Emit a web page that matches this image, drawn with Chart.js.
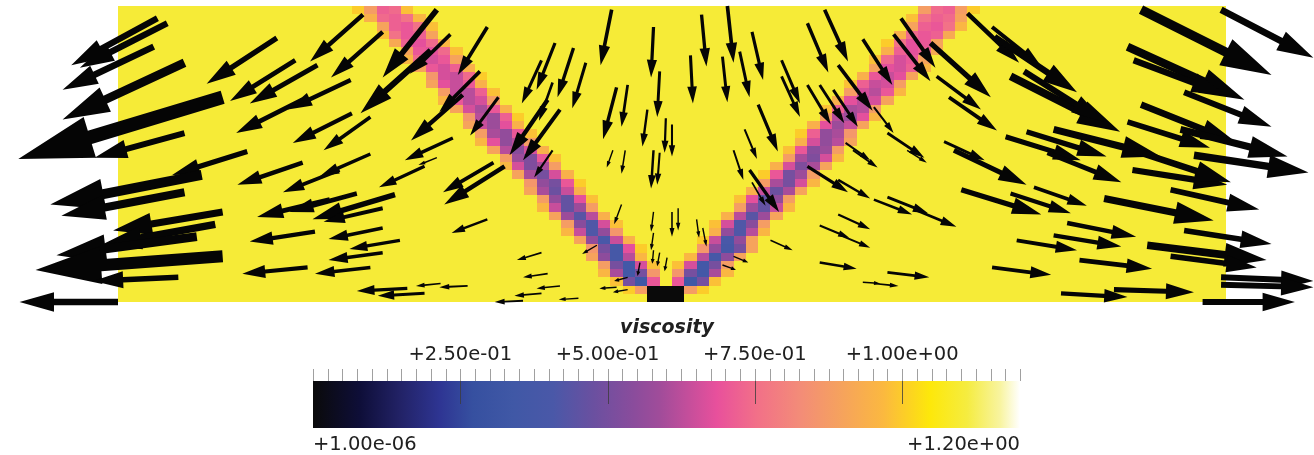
<!DOCTYPE html>
<html><head><meta charset="utf-8">
<script src="https://cdn.jsdelivr.net/npm/chart.js@4.4.1/dist/chart.umd.min.js"></script>
<style>html,body{margin:0;padding:0;background:#fff;}canvas{display:block;}</style>
</head><body>
<canvas id="c" width="1314" height="455"></canvas>
<script>
// ---------------- DATA ----------------
// model extent (length units) and mesh
const domainX = [0, 90];
const domainY = [0, 24];
const gridCols = 90, gridRows = 36;
const backgroundViscosity = 1.1;
// weak seed: [firstCol, lastCol+1, firstRow, lastRow+1, viscosity]
const seedCells = [[43, 46, 0, 2, 1e-6]];
// shear band cells: [row, firstCol, viscosities...]
const leftBand = [
  [1, 41, [1.0, 0.88]],
  [2, 40, [0.98, 0.5, 0.34, 0.7]],
  [3, 39, [0.96, 0.6, 0.36, 0.5, 0.86]],
  [4, 39, [0.88, 0.5, 0.36, 0.66, 0.98]],
  [5, 38, [0.9, 0.55, 0.38, 0.62, 0.96]],
  [6, 38, [0.86, 0.5, 0.38, 0.68, 1.0]],
  [7, 37, [0.9, 0.56, 0.4, 0.64, 0.94]],
  [8, 36, [0.96, 0.64, 0.42, 0.56, 0.86]],
  [9, 36, [0.88, 0.54, 0.42, 0.66, 0.98]],
  [10, 35, [0.9, 0.58, 0.44, 0.62, 0.94]],
  [11, 34, [0.96, 0.64, 0.46, 0.58, 0.88]],
  [12, 34, [0.88, 0.56, 0.46, 0.68, 0.98]],
  [13, 33, [0.9, 0.6, 0.48, 0.64, 0.94]],
  [14, 33, [0.86, 0.56, 0.5, 0.7, 1.0]],
  [15, 32, [0.9, 0.6, 0.5, 0.66, 0.94]],
  [16, 31, [0.96, 0.66, 0.52, 0.6, 0.88]],
  [17, 31, [0.88, 0.58, 0.52, 0.7, 0.98]],
  [18, 30, [0.9, 0.62, 0.54, 0.66, 0.94]],
  [19, 29, [0.96, 0.68, 0.56, 0.62, 0.88]],
  [20, 29, [0.88, 0.6, 0.56, 0.7, 0.98]],
  [21, 28, [0.9, 0.64, 0.58, 0.68, 0.94]],
  [22, 28, [0.86, 0.62, 0.58, 0.72, 1.0]],
  [23, 27, [0.9, 0.66, 0.6, 0.7, 0.94]],
  [24, 26, [0.96, 0.7, 0.62, 0.66, 0.88]],
  [25, 26, [0.88, 0.64, 0.62, 0.72, 0.98]],
  [26, 25, [0.9, 0.68, 0.64, 0.7, 0.94]],
  [27, 25, [0.86, 0.66, 0.64, 0.74, 1.0]],
  [28, 24, [0.9, 0.7, 0.66, 0.72, 0.94]],
  [29, 23, [0.96, 0.74, 0.66, 0.7, 0.9]],
  [30, 23, [0.9, 0.7, 0.68, 0.74, 0.98]],
  [31, 22, [0.92, 0.72, 0.68, 0.74, 0.96]],
  [32, 21, [0.98, 0.76, 0.7, 0.72, 0.9]],
  [33, 21, [0.9, 0.72, 0.7, 0.76, 0.98]],
  [34, 20, [0.94, 0.74, 0.72, 0.76, 0.96]],
  [35, 19, [1.0, 0.88, 0.72, 0.74, 0.98]]
];
const rightBand = [
  [1, 46, [0.88, 1.0]],
  [2, 45, [0.7, 0.34, 0.5, 0.98]],
  [3, 45, [0.86, 0.5, 0.36, 0.6, 0.96]],
  [4, 45, [0.98, 0.66, 0.36, 0.5, 0.88]],
  [5, 46, [0.96, 0.62, 0.38, 0.55, 0.9]],
  [6, 47, [0.86, 0.56, 0.38, 0.5, 0.9]],
  [7, 47, [1.0, 0.64, 0.4, 0.56, 0.9]],
  [8, 48, [0.94, 0.56, 0.42, 0.62, 0.96]],
  [9, 48, [0.98, 0.66, 0.42, 0.54, 0.88]],
  [10, 49, [0.94, 0.62, 0.44, 0.58, 0.9]],
  [11, 50, [0.88, 0.58, 0.46, 0.64, 0.96]],
  [12, 50, [0.98, 0.68, 0.46, 0.56, 0.88]],
  [13, 51, [0.94, 0.64, 0.48, 0.6, 0.9]],
  [14, 52, [0.88, 0.6, 0.5, 0.66, 0.96]],
  [15, 52, [1.0, 0.7, 0.5, 0.58, 0.88]],
  [16, 53, [0.94, 0.66, 0.52, 0.6, 0.9]],
  [17, 54, [0.88, 0.6, 0.52, 0.66, 0.96]],
  [18, 54, [0.98, 0.7, 0.54, 0.58, 0.88]],
  [19, 55, [0.94, 0.66, 0.56, 0.62, 0.9]],
  [20, 55, [1.0, 0.72, 0.56, 0.6, 0.86]],
  [21, 56, [0.94, 0.68, 0.58, 0.64, 0.9]],
  [22, 57, [0.88, 0.62, 0.58, 0.68, 0.96]],
  [23, 57, [0.98, 0.72, 0.6, 0.62, 0.88]],
  [24, 58, [0.94, 0.68, 0.62, 0.66, 0.9]],
  [25, 59, [0.88, 0.66, 0.62, 0.7, 0.96]],
  [26, 59, [0.98, 0.72, 0.64, 0.66, 0.88]],
  [27, 60, [0.94, 0.7, 0.64, 0.68, 0.9]],
  [28, 61, [0.9, 0.68, 0.66, 0.72, 0.96]],
  [29, 61, [0.98, 0.74, 0.66, 0.7, 0.9]],
  [30, 62, [0.94, 0.72, 0.68, 0.72, 0.92]],
  [31, 62, [1.0, 0.76, 0.68, 0.7, 0.9]],
  [32, 63, [0.94, 0.74, 0.7, 0.72, 0.92]],
  [33, 64, [0.9, 0.72, 0.7, 0.76, 0.96]],
  [34, 64, [0.98, 0.76, 0.72, 0.74, 0.9]],
  [35, 65, [0.88, 0.74, 0.72, 0.88, 1.0]]
];
// velocity glyphs: [x, y, u, v] (tail position and vector, length units)
const velocity = [
  [3.2,23.0,-7.0,-3.8],[4.0,22.6,-7.1,-3.6],[2.9,20.7,-7.4,-3.5],[5.4,19.4,-9.9,-4.6],
  [8.5,16.6,-16.6,-5.0],[5.4,13.7,-7.3,-2.0],[12.9,21.4,-5.7,-3.7],[14.4,19.6,-5.3,-3.3],
  [19.9,23.3,-4.3,-3.8],[21.5,21.9,-4.2,-3.7],[16.2,19.2,-5.5,-3.1],[18.9,18.0,-5.1,-2.4],
  [15.0,16.4,-5.4,-2.7],[19.0,15.3,-4.8,-2.4],[20.5,15.0,-3.8,-2.7],[25.9,23.7,-4.4,-5.5],
  [25.4,20.4,-5.7,-5.1],[10.5,12.2,-6.1,-1.9],
  [30.0,22.3,-2.4,-3.9],[30.9,16.6,-2.3,-3.1],[29.4,18.7,-3.3,-3.3],[35.5,21.0,-1.5,-3.8],
  [34.4,19.6,-1.6,-3.5],[37.0,20.6,-1.3,-4.0],[38.0,19.4,-1.1,-3.7],[35.3,17.8,-1.1,-3.1],
  [40.1,23.7,-0.9,-4.5],[43.5,22.3,-0.2,-4.1],[44.0,18.7,-0.2,-3.7],[40.5,17.4,-1.1,-4.2],
  [41.4,17.6,-0.5,-3.4],[43.0,15.6,-0.4,-3.0],[44.5,14.9,-0.1,-2.8],[45.0,14.4,0.0,-2.6],
  [46.5,20.0,0.2,-3.9],[47.4,23.3,0.4,-4.2],[49.5,24.0,0.5,-4.6],[49.1,19.9,0.4,-3.7],
  [50.5,20.3,0.8,-3.7],[51.5,21.9,0.9,-3.9],[52.0,16.0,1.6,-3.8],[50.9,14.0,1.0,-2.4],
  [50.0,12.3,0.8,-2.4],[53.9,19.6,1.5,-3.5],[53.9,18.3,1.5,-3.3],[56.0,22.6,1.7,-4.0],
  [57.4,23.7,1.9,-4.2],[56.0,17.6,1.9,-3.2],[57.0,17.6,2.0,-3.1],[58.1,17.2,2.0,-3.0],
  [58.5,19.2,2.8,-3.7],[60.5,21.3,2.4,-3.7],[59.1,12.9,2.0,-1.4],
  [30.5,11.3,-4.1,-2.4],[31.4,11.0,-4.9,-3.1],[30.0,6.7,-2.9,-1.1],[35.3,12.3,-1.5,-2.2],
  [40.2,12.3,-0.5,-1.4],[41.2,12.3,-0.3,-1.9],[43.5,12.3,-0.2,-3.1],[44.0,12.1,-0.2,-2.6],
  [40.9,7.9,-0.6,-1.6],[43.5,7.3,-0.2,-1.6],[45.0,7.3,0.0,-2.0],[45.5,7.6,0.0,-1.8],
  [43.5,5.6,-0.2,-1.4],[43.5,4.2,-0.1,-1.1],[44.0,4.0,-0.2,-1.1],[44.6,3.6,-0.2,-1.1],
  [47.0,6.7,0.2,-1.5],[47.5,6.0,0.3,-1.5],[42.4,3.2,-0.2,-1.1],[38.9,4.6,-1.2,-0.7],
  [41.4,2.0,-1.1,-0.3],[40.5,1.2,-1.4,-0.1],[41.4,1.0,-1.2,-0.2],[34.4,4.0,-2.0,-0.6],
  [34.9,2.3,-2.0,-0.3],[35.9,1.3,-1.9,-0.2],[34.4,0.7,-2.2,-0.2],[37.4,0.3,-1.6,-0.1],
  [32.9,0.1,-2.3,-0.1],[28.4,1.3,-2.3,-0.1],
  [51.3,10.7,2.4,-3.4],[51.5,9.7,1.1,-1.9],[56.0,11.0,3.3,-2.1],[58.5,9.9,2.6,-1.5],
  [59.7,12.3,2.0,-1.4],[58.5,7.1,2.6,-1.2],[57.0,6.2,2.4,-1.0],[58.7,5.4,2.4,-1.0],
  [53.0,5.0,1.8,-0.8],[57.0,3.2,3.0,-0.5],[50.0,3.7,1.2,-0.5],[49.1,3.0,1.1,-0.4],
  [60.5,1.6,1.4,-0.1],
  [15.0,11.3,-5.3,-1.8],[20.5,12.0,-4.1,-1.8],[18.0,10.7,-4.6,-1.8],[24.9,11.0,-3.7,-1.7],
  [25.9,11.7,-1.5,-0.6],[17.2,8.3,-5.9,-1.4],[19.4,8.8,-5.5,-1.5],[22.5,8.7,-6.7,-2.0],
  [21.5,7.6,-4.8,-1.1],[6.8,10.3,-12.3,-2.4],[5.4,8.9,-10.0,-1.9],[8.5,7.3,-8.9,-1.5],
  [7.9,6.3,-9.3,-1.7],[6.4,5.3,-11.4,-1.5],[8.5,3.7,-15.2,-1.1],[4.9,2.0,-6.9,-0.3],
  [0.0,0.0,-8.0,0.0],[16.0,5.7,-5.3,-0.8],[21.5,6.0,-4.4,-0.9],[22.9,5.0,-4.1,-0.7],
  [21.5,4.0,-4.4,-0.6],[15.4,2.8,-5.3,-0.5],[20.5,2.8,-4.5,-0.5],[23.5,1.1,-4.1,-0.2],
  [24.9,0.7,-3.8,-0.2],[26.2,1.5,-2.0,-0.2],
  [69.0,23.4,4.2,-4.0],[71.0,22.3,4.0,-3.2],[63.6,23.0,2.8,-4.0],[63.0,21.7,3.0,-3.8],
  [66.0,21.0,4.9,-4.4],[66.5,18.3,3.6,-2.7],[67.5,16.6,3.9,-2.7],[71.2,21.5,6.7,-4.5],
  [72.5,18.3,8.9,-4.5],[73.6,18.7,6.5,-4.1],[83.1,23.7,10.6,-5.3],[89.6,23.7,7.5,-3.9],
  [82.0,20.7,9.5,-4.3],[86.6,17.0,7.1,-2.8],[83.1,16.0,7.8,-3.1],[82.0,14.6,6.7,-2.1],
  [86.3,14.0,8.7,-2.2],[76.0,14.0,8.7,-2.2],[72.1,13.4,6.1,-1.9],[67.1,13.0,3.3,-1.5],
  [62.5,13.7,3.0,-2.0],[61.4,15.8,1.6,-2.1],[82.5,19.6,7.5,-2.8],[73.8,13.8,6.5,-2.0],
  [68.5,9.1,6.5,-2.0],[72.5,8.8,4.9,-1.6],[74.4,9.3,4.3,-1.5],[80.1,8.4,8.9,-1.8],
  [82.4,10.7,7.7,-1.2],[85.5,9.1,7.2,-1.6],[77.1,6.4,5.6,-1.1],[76.0,5.4,5.5,-0.9],
  [73.0,5.0,4.9,-0.8],[78.1,3.4,5.9,-0.7],[71.0,2.8,4.8,-0.6],[86.6,5.8,7.1,-1.1],
  [83.6,4.6,9.7,-1.2],[85.5,3.7,7.0,-0.9],[89.6,2.0,7.5,-0.3],[89.6,1.4,7.5,-0.2],
  [76.6,0.7,5.4,-0.3],[80.9,1.0,6.5,-0.2],[88.1,0.0,7.5,0.0],[62.5,2.4,3.4,-0.4],
  [61.4,1.5,2.0,-0.2],[62.5,8.5,3.3,-1.3],[61.4,8.3,3.1,-1.2],[64.7,7.5,3.4,-1.4],
  [64.1,12.3,1.6,-1.0],[67.9,12.3,5.9,-2.8],[75.5,12.1,6.0,-2.4],[82.5,12.3,7.9,-2.6],
  [87.4,11.9,9.3,-1.4],
  [27.2,13.3,-3.9,-1.8],[27.0,21.7,-3.3,-3.2],[28.0,16.8,-4.2,-3.7],[34.9,16.4,-3.1,-4.5],
  [35.9,15.6,-3.0,-4.1]
];
// colour bar
const cbTitle = 'viscosity';
const cbMin = 1e-6, cbMax = 1.2;
const cbMinLabel = '+1.00e-06', cbMaxLabel = '+1.20e+00';
const cbTicks = [0.25, 0.5, 0.75, 1.0];
const cbTickLabels = ['+2.50e-01', '+5.00e-01', '+7.50e-01', '+1.00e+00'];
const cbMinorStep = 0.025;

// ---------------- STYLE ----------------
const cmapStops = [[0,'#0a0a0a'],[0.066,'#0e0e38'],[0.123,'#222266'],[0.18,'#2e3593'],[0.226,'#3650a0'],
  [0.283,'#4058a6'],[0.34,'#4a58a8'],[0.396,'#6a50a0'],[0.453,'#8a4c9c'],[0.49,'#a04c9a'],[0.571,'#e8509c'],
  [0.628,'#f27088'],[0.689,'#f38c78'],[0.741,'#f5a060'],[0.806,'#fbb840'],[0.873,'#fde80a'],[0.925,'#f5ec40'],
  [0.972,'#f8f4a0'],[1,'#ffffff']];
const hex = h => [parseInt(h.slice(1,3),16), parseInt(h.slice(3,5),16), parseInt(h.slice(5,7),16)];
function cmap(v){
  let t = (v - cbMin) / (cbMax - cbMin); t = Math.max(0, Math.min(1, t));
  for (let i = 1; i < cmapStops.length; i++) {
    if (t <= cmapStops[i][0]) {
      const [t0,c0] = cmapStops[i-1], [t1,c1] = cmapStops[i];
      const f = (t - t0) / (t1 - t0), a = hex(c0), b = hex(c1);
      return `rgb(${a.map((x,k)=>Math.round(x+(b[k]-x)*f)).join(',')})`;
    }
  }
  return cmapStops[cmapStops.length-1][1];
}
const BAR = {l:313, r:1020, t:381, b:428};

const fieldPlugin = {
  id: 'field',
  beforeDatasetsDraw(chart){
    const {ctx, scales:{x, y}} = chart;
    const cw = (domainX[1]-domainX[0]) / gridCols, ch = (domainY[1]-domainY[0]) / gridRows;
    const rect = (x0,x1,y0,y1,col) => {
      const a = Math.round(x.getPixelForValue(x0)), b = Math.round(x.getPixelForValue(x1));
      const c = Math.round(y.getPixelForValue(y1)), d = Math.round(y.getPixelForValue(y0));
      ctx.fillStyle = col; ctx.fillRect(a, c, b-a, d-c);
    };
    const cell = (c0,c1,r0,r1,v) => rect(domainX[0]+c0*cw, domainX[0]+c1*cw, domainY[0]+r0*ch, domainY[0]+r1*ch, cmap(v));
    ctx.save();
    rect(domainX[0], domainX[1], domainY[0], domainY[1], cmap(backgroundViscosity));
    for (const band of [leftBand, rightBand])
      for (const [row, c0, vals] of band)
        vals.forEach((v,k) => cell(c0+k, c0+k+1, row, row+1, v));
    for (const [c0,c1,r0,r1,v] of seedCells) cell(c0,c1,r0,r1,v);
    ctx.restore();
  }
};

function drawArrow(ctx, x0, y0, x1, y1){
  const dx = x1-x0, dy = y1-y0, L = Math.hypot(dx,dy); if (L < 1) return;
  const ux = dx/L, uy = dy/L, nx = -uy, ny = ux;
  const sw = Math.max(0.032*L, 0.7), hw = Math.max(0.1*L, 2), hl = Math.max(0.35*L, 4);
  const bx = x1-ux*hl, by = y1-uy*hl;
  ctx.beginPath();
  ctx.moveTo(x0+nx*sw, y0+ny*sw);
  ctx.lineTo(bx+nx*sw, by+ny*sw);
  ctx.lineTo(bx+nx*hw, by+ny*hw);
  ctx.lineTo(x1, y1);
  ctx.lineTo(bx-nx*hw, by-ny*hw);
  ctx.lineTo(bx-nx*sw, by-ny*sw);
  ctx.lineTo(x0-nx*sw, y0-ny*sw);
  ctx.closePath(); ctx.fill();
}
const glyphPlugin = {
  id: 'glyphs',
  afterDatasetsDraw(chart){
    const {ctx, scales:{x, y}} = chart;
    const meta = chart.getDatasetMeta(0);
    ctx.save(); ctx.fillStyle = '#050505';
    meta.data.forEach((pt, i) => {
      const d = chart.data.datasets[0].data[i];
      drawArrow(ctx, pt.x, pt.y, x.getPixelForValue(d.x + d.u), y.getPixelForValue(d.y + d.v));
    });
    ctx.restore();
  }
};

const colorbarPlugin = {
  id: 'colorbar',
  afterDraw(chart){
    const ctx = chart.ctx;
    const px = v => BAR.l + (v - cbMin) / (cbMax - cbMin) * (BAR.r - BAR.l);
    ctx.save();
    const g = ctx.createLinearGradient(BAR.l, 0, BAR.r, 0);
    cmapStops.forEach(([t,c]) => g.addColorStop(t, c));
    ctx.fillStyle = g; ctx.fillRect(BAR.l, BAR.t, BAR.r-BAR.l, BAR.b-BAR.t);
    ctx.strokeStyle = '#a0a0a0'; ctx.lineWidth = 1;
    ctx.beginPath();
    for (let v = 0; v <= cbMax + 1e-9; v += cbMinorStep) {
      const xx = Math.round(px(v)) + 0.5;
      ctx.moveTo(xx, BAR.t - 12); ctx.lineTo(xx, BAR.t);
    }
    ctx.stroke();
    ctx.strokeStyle = 'rgba(60,60,60,0.8)';
    ctx.beginPath();
    cbTicks.forEach(v => { const xx = Math.round(px(v)) + 0.5; ctx.moveTo(xx, BAR.t); ctx.lineTo(xx, BAR.t + 23); });
    ctx.stroke();
    ctx.fillStyle = '#202020';
    ctx.font = '19.5px "DejaVu Sans"';
    ctx.textBaseline = 'alphabetic';
    ctx.textAlign = 'center';
    cbTicks.forEach((v,i) => ctx.fillText(cbTickLabels[i], px(v), 360));
    ctx.textAlign = 'left'; ctx.fillText(cbMinLabel, BAR.l, 450);
    ctx.textAlign = 'right'; ctx.fillText(cbMaxLabel, BAR.r, 450);
    ctx.font = 'italic bold 19px "DejaVu Sans"';
    ctx.textAlign = 'center'; ctx.fillText(cbTitle, 667, 333);
    ctx.restore();
  }
};

new Chart(document.getElementById('c'), {
  type: 'scatter',
  data: { datasets: [{ label: 'velocity', data: velocity.map(([x,y,u,v]) => ({x, y, u, v})), pointRadius: 0, pointHoverRadius: 0 }] },
  options: {
    responsive: false, animation: false, events: [],
    layout: { padding: 0 },
    plugins: { legend: { display: false }, tooltip: { enabled: false } },
    scales: {
      x: { type: 'linear', display: false, min: -9.585, max: 97.15 },
      y: { type: 'linear', display: false, min: -12.406, max: 24.486 }
    }
  },
  plugins: [fieldPlugin, glyphPlugin, colorbarPlugin]
});
</script>
</body></html>
